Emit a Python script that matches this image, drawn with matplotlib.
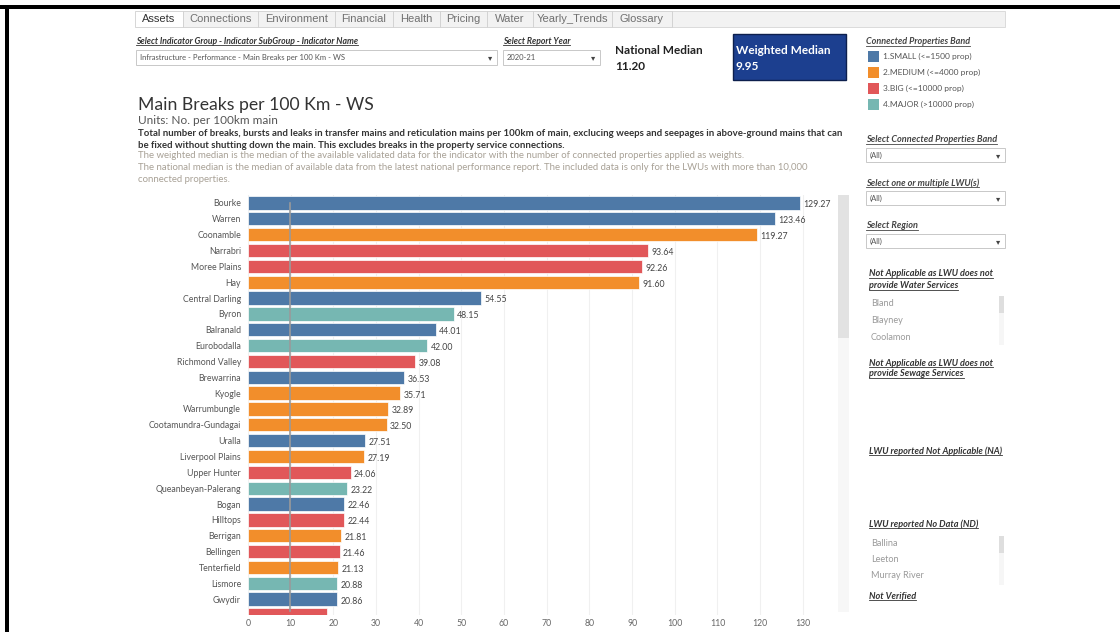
import matplotlib.pyplot as plt
from matplotlib.patches import Rectangle
from matplotlib.lines import Line2D
from matplotlib.transforms import IdentityTransform

plt.rcParams['font.family'] = ['Lato', 'DejaVu Sans']

# data
lwus = ['Bourke', 'Warren', 'Coonamble', 'Narrabri', 'Moree Plains', 'Hay',
        'Central Darling', 'Byron', 'Balranald', 'Eurobodalla', 'Richmond Valley',
        'Brewarrina', 'Kyogle', 'Warrumbungle', 'Cootamundra-Gundagai', 'Uralla',
        'Liverpool Plains', 'Upper Hunter', 'Queanbeyan-Palerang', 'Bogan',
        'Hilltops', 'Berrigan', 'Bellingen', 'Tenterfield', 'Lismore', 'Gwydir', '']
values = [129.27, 123.46, 119.27, 93.64, 92.26, 91.60, 54.55, 48.15, 44.01, 42.00,
          39.08, 36.53, 35.71, 32.89, 32.50, 27.51, 27.19, 24.06, 23.22, 22.46,
          22.44, 21.81, 21.46, 21.13, 20.88, 20.86, 18.5]
bands = [0, 0, 1, 2, 2, 1, 0, 3, 0, 3, 2, 0, 1, 1, 1, 0, 1, 2, 3, 0, 2, 1, 2, 1, 3, 0, 2]
band_labels = ['1.SMALL (<=1500 prop)', '2.MEDIUM (<=4000 prop)',
               '3.BIG (<=10000 prop)', '4.MAJOR (>10000 prop)']
band_colors = ['#4e79a7', '#f28e2b', '#e15759', '#76b7b2']
national_median = 11.20
weighted_median = 9.95
x_ticks = list(range(0, 131, 10))
tabs = ['Assets', 'Connections', 'Environment', 'Financial', 'Health', 'Pricing',
        'Water', 'Yearly_Trends', 'Glossary']
tab_edges = [135, 183, 258, 335, 393, 440, 487, 533, 612, 672]
no_water = ['Bland', 'Blayney', 'Coolamon']
no_data = ['Ballina', 'Leeton', 'Murray River']

W, H = 1120, 632
fig = plt.figure(figsize=(11.2, 6.32), dpi=100)
bg = fig.add_axes([0, 0, 1, 1])
bg.set_xlim(0, W)
bg.set_ylim(H, 0)
bg.axis('off')

underlined = []


def rect(x0, y0, x1, y1, fc='white', ec='#cccccc', lw=0.8, z=1):
    bg.add_patch(Rectangle((x0, y0), x1 - x0, y1 - y0, facecolor=fc,
                           edgecolor=ec, linewidth=lw, zorder=z))


def label(x, y, s, size=6, color='#333333', weight='normal', style='normal',
          ul=False, ha='left', family=None):
    kw = {}
    if family:
        kw['family'] = family
    t = bg.text(x, y, s, fontsize=size, color=color, fontweight=weight,
                fontstyle=style, va='center', ha=ha, zorder=5, **kw)
    if ul:
        underlined.append(t)
    return t


def heading(x, y, s, color='#333333', size=6.6):
    return label(x, y, s, size=size, weight='bold', style='italic', color=color, ul=True)


def dropdown(x0, y0, x1, y1, s):
    rect(x0, y0, x1, y1, ec='#c8c8c8', lw=0.7)
    label(x0 + 4, (y0 + y1) / 2, s, size=5.5, color='#555555')
    label(x1 - 7, (y0 + y1) / 2 + 0.5, '\u25BE', size=6, color='#444444',
          ha='center', family=['DejaVu Sans'])


# black frame of the screenshot
rect(0, 5, W, 9, fc='black', ec='none', lw=0)
rect(5, 5, 9, H, fc='black', ec='none', lw=0)

# tabs
rect(tab_edges[-1], 11, 1005, 27, fc='#f2f2f2', ec='#d6d6d6', lw=0.6)
for i, name in enumerate(tabs):
    x0, x1 = tab_edges[i], tab_edges[i + 1]
    sel = i == 0
    rect(x0, 11, x1, 27, fc='white' if sel else '#f2f2f2', ec='#d0d0d0', lw=0.6, z=2)
    label((x0 + x1) / 2, 19, name, size=8, color='#333333' if sel else '#707070',
          ha='center', family=['Liberation Sans', 'DejaVu Sans'])

# selectors
heading(136, 41, 'Select Indicator Group - Indicator SubGroup - Indicator Name', size=6.2)
dropdown(136, 50, 497, 65, 'Infrastructure - Performance - Main Breaks per 100 Km - WS')
heading(503, 41, 'Select Report Year', size=6.2)
dropdown(503, 50, 600, 65, '2020-21')

# medians
label(615, 51, 'National Median', size=8.5, weight='bold', color='#222222')
label(615, 67, f'{national_median:.2f}', size=8.5, weight='bold', color='#222222')
rect(733, 34, 846, 80, fc='#1c3f8f', ec='#0d1f4d', lw=1.0)
label(736, 51, 'Weighted Median', size=8.5, weight='bold', color='white')
label(736, 67, f'{weighted_median:.2f}', size=8.5, weight='bold', color='white')

# legend
heading(866, 42, 'Connected Properties Band', color='#444444', size=6.5)
for i, (lab, col) in enumerate(zip(band_labels, band_colors)):
    yc = 56 + 16 * i
    rect(868, yc - 5.5, 879, yc + 5.5, fc=col, ec='none', lw=0)
    label(883, yc, lab, size=6, color='#555555')

# titles
label(138, 105, 'Main Breaks per 100 Km - WS', size=12.7, color='#333333')
label(138, 120, 'Units: No. per 100km main', size=8.5, color='#555555')
label(138, 133, 'Total number of breaks, bursts and leaks in transfer mains and reticulation '
      'mains per 100km of main, exclucing weeps and seepages in above-ground mains that can',
      size=6.95, weight='bold', color='#333333')
label(138, 145, 'be fixed without shutting down the main. This excludes breaks in the '
      'property service connections.', size=6.95, weight='bold', color='#333333')
gray = '#a8a196'
label(138, 156, 'The weighted median is the median of the available validated data for the '
      'indicator with the number of connected properties applied as weights.',
      size=6.9, color=gray)
label(138, 168, 'The national median is the median of available data from the latest national '
      'performance report. The included data is only for the LWUs with more than 10,000',
      size=6.9, color=gray)
label(138, 180, 'connected properties.', size=6.9, color=gray)

# right side filters
heading(866, 140, 'Select Connected Properties Band', color='#444444')
dropdown(866, 148, 1005, 162, '(All)')
heading(866, 183, 'Select one or multiple LWU(s)', color='#444444')
dropdown(866, 191, 1005, 205, '(All)')
heading(866, 226, 'Select Region', color='#444444')
dropdown(866, 234, 1005, 248, '(All)')

heading(869, 274, 'Not Applicable as LWU does not')
heading(869, 286, 'provide Water Services')
for i, n in enumerate(no_water):
    label(871, 303 + 17.5 * i, n, size=6.6, color='#9a9a9a')
rect(999, 296, 1004, 345, fc='#f6f6f6', ec='none', lw=0)
rect(999, 296, 1004, 313, fc='#dedede', ec='none', lw=0)

heading(869, 363, 'Not Applicable as LWU does not')
heading(869, 374, 'provide Sewage Services')
heading(869, 451, 'LWU reported Not Applicable (NA)')
heading(869, 524, 'LWU reported No Data (ND)')
for i, n in enumerate(no_data):
    label(871, 544 + 16 * i, n, size=6.6, color='#9a9a9a')
rect(999, 536, 1004, 585, fc='#f6f6f6', ec='none', lw=0)
rect(999, 536, 1004, 553, fc='#dedede', ec='none', lw=0)
heading(869, 596, 'Not Verified')

# chart scrollbar
rect(838, 195, 849, 612, fc='#f7f7f7', ec='none', lw=0)
rect(838, 195, 849, 338, fc='#e2e2e2', ec='none', lw=0)

# main bar chart
ax = fig.add_axes([248 / W, 1 - 615 / H, (837 - 248) / W, (615 - 195) / H])
ax.patch.set_alpha(0)
pos = list(range(len(values)))
y_bottom = 25.75
ax.barh(pos, values, height=0.84, color=[band_colors[b] for b in bands],
        edgecolor='white', linewidth=0.5, zorder=2)
ax.set_xlim(0, 138)
ax.set_ylim(y_bottom, -0.5)
ax.set_yticks(pos)
ax.set_yticklabels(lwus)
ax.set_xticks(x_ticks)
ax.tick_params(length=0, labelsize=6.3, colors='#666666')
ax.tick_params(axis='x', pad=3)
ax.tick_params(axis='y', pad=5, colors='#555555')
for s in ax.spines.values():
    s.set_visible(False)
ax.grid(axis='x', color='#f0f0f0', lw=0.8, zorder=0)
ax.set_axisbelow(True)
ax.plot([weighted_median, weighted_median], [0, y_bottom], color='#9a9a9a', lw=1.2,
        zorder=3, clip_on=False)
for i, v in enumerate(values):
    if i + 0.5 > y_bottom:
        continue  # row scrolled out of view
    ax.text(v + 0.8, i + 0.12, f'{v:.2f}', fontsize=6.3, color='#444444',
            va='center', ha='left', zorder=4)

# underline the dashboard headings
fig.canvas.draw()
r = fig.canvas.get_renderer()
for t in underlined:
    bb = t.get_window_extent(r)
    fig.add_artist(Line2D([bb.x0, bb.x1], [bb.y0 + 1, bb.y0 + 1],
                          transform=IdentityTransform(), color=t.get_color(), lw=0.6))

fig.savefig('out.png', dpi=100)
